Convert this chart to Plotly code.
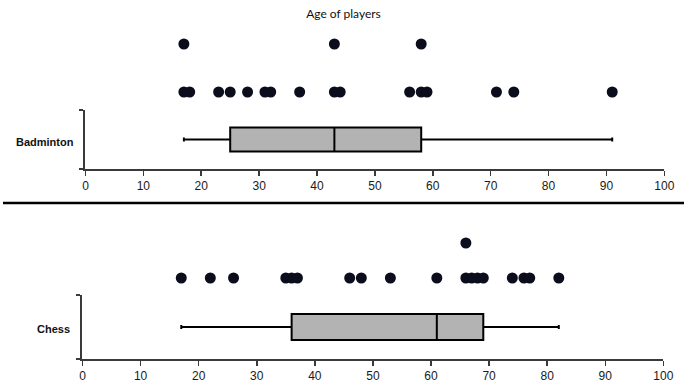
import plotly.graph_objects as go
from collections import Counter

# ---------------- data ----------------
title_text = "Age of players"
categories = ["Badminton", "Chess"]
badminton_ages = [17, 17, 18, 23, 25, 28, 31, 32, 37, 43, 43, 44, 56, 58, 58, 59, 71, 74, 91]
chess_ages = [17, 22, 26, 35, 36, 37, 46, 48, 53, 61, 66, 66, 67, 68, 69, 74, 76, 77, 82]
x_ticks = list(range(0, 101, 10))
series = [badminton_ages, chess_ages]

# ---------------- layout helpers ----------------
W, H = 694, 387
X_RANGE = [-0.01, 100.01]


def px_x(p):
    return p / W


def px_y(p):
    return 1 - p / H


def stack_levels(vals):
    seen = Counter()
    levels = []
    for v in vals:
        seen[v] += 1
        levels.append(seen[v])
    return levels


# per-panel geometry (pixels)
panels = [
    dict(x=(84, 674), dots=(30, 105), lvl1=92, lvl2=44, box=(110, 169), label_x=74),
    dict(x=(81, 673), dots=(225, 292), lvl1=278, lvl2=243, box=(295, 359), label_x=70),
]

fig = go.Figure()
layout_axes = {}
annotations = []

DOT_COLOR = "#0b0c1c"
AXIS_COLOR = "#3a3a3a"

for i, (name, ages, g) in enumerate(zip(categories, series, panels)):
    bx = 2 * i + 1   # box axes index
    dx = 2 * i + 2   # dots axes index
    bxs = "" if bx == 1 else str(bx)
    dxs = str(dx)

    xdom = [px_x(g["x"][0]), px_x(g["x"][1])]

    # dot plot above the box
    levels = stack_levels(ages)
    fig.add_trace(go.Scatter(
        x=ages, y=levels, mode="markers",
        marker=dict(size=11, color=DOT_COLOR, line=dict(width=0)),
        xaxis="x" + dxs, yaxis="y" + dxs, showlegend=False, hoverinfo="x",
    ))

    def lvl_at(p, g=g):
        return 1 + (g["lvl1"] - p) / (g["lvl1"] - g["lvl2"])

    layout_axes["xaxis" + dxs] = dict(
        domain=xdom, range=X_RANGE, visible=False, anchor="y" + dxs,
    )
    layout_axes["yaxis" + dxs] = dict(
        domain=[px_y(g["dots"][1]), px_y(g["dots"][0])],
        range=[lvl_at(g["dots"][1]), lvl_at(g["dots"][0])],
        visible=False, anchor="x" + dxs,
    )

    # box plot
    fig.add_trace(go.Box(
        x=ages, y0=0, orientation="h", name=name,
        quartilemethod="exclusive", boxpoints=False,
        fillcolor="#b3b3b3", line=dict(color="black", width=2),
        whiskerwidth=0.16, width=0.41,
        xaxis="x" + bxs, yaxis="y" + bxs, showlegend=False,
    ))

    layout_axes["xaxis" + bxs] = dict(
        domain=xdom, range=X_RANGE, anchor="y" + bxs,
        tickmode="array", tickvals=x_ticks, ticktext=[str(t) for t in x_ticks],
        ticks="outside", ticklen=5, tickwidth=1.5,
        tickcolor=AXIS_COLOR, showline=True, linecolor=AXIS_COLOR, linewidth=2,
        showgrid=False, zeroline=False, ticklabeloverflow="allow",
        tickfont=dict(family="Liberation Sans, Arial", size=12, color="#1a1a1a"),
    )
    layout_axes["yaxis" + bxs] = dict(
        domain=[px_y(g["box"][1]), px_y(g["box"][0])], range=[-0.5, 0.5],
        anchor="x" + bxs, tickvals=[-0.5, 0.5], ticktext=["", ""],
        ticks="outside", ticklen=4, tickwidth=1.5, tickcolor=AXIS_COLOR,
        showline=True, linecolor=AXIS_COLOR, linewidth=2,
        showgrid=False, zeroline=False,
    )

    annotations.append(dict(
        text="<b>%s</b>" % name, xref="paper", yref="paper",
        x=px_x(g["label_x"]), xanchor="right",
        y=px_y((g["box"][0] + g["box"][1]) / 2 + 2), yanchor="middle",
        showarrow=False,
        font=dict(family="Liberation Sans, Arial", size=11, color="#111111"),
    ))

fig.update_layout(
    width=W, height=H, autosize=False,
    margin=dict(l=0, r=0, t=0, b=0),
    paper_bgcolor="white", plot_bgcolor="white",
    title=dict(text=title_text, x=343.5 / W, xanchor="center",
               y=1 - 14 / H, yanchor="middle", yref="container",
               font=dict(family="Lato, Liberation Sans", size=12, color="#111111")),
    annotations=annotations,
    shapes=[dict(type="line", xref="paper", yref="paper", x0=0, x1=1,
                 y0=px_y(203), y1=px_y(203),
                 line=dict(color="black", width=2.5))],
    hovermode=False,
    **layout_axes,
)

fig.write_html(
    "out.html",
    config={"displayModeBar": False, "staticPlot": True},
    post_script=(
        "document.documentElement.style.overflow='hidden';"
        "document.body.style.overflow='hidden';"
        "document.body.style.margin='0';document.body.style.padding='0';"
    ),
)
